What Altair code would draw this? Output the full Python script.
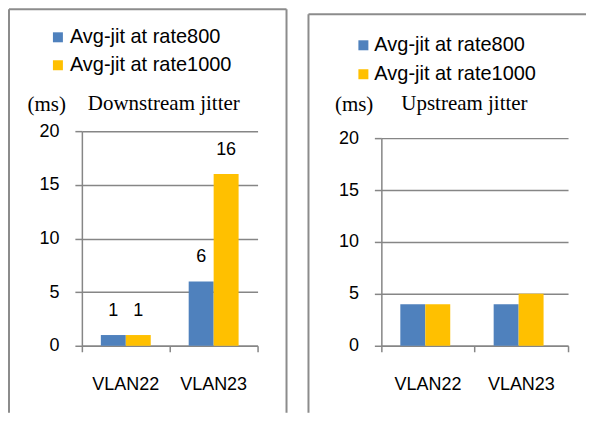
import altair as alt
import pandas as pd

categories = ["VLAN22", "VLAN23"]
series = ["Avg-jit at rate800", "Avg-jit at rate1000"]
down_800 = [1, 6]
down_1000 = [1, 16]
up_800 = [4, 4]
up_1000 = [4, 5]
y_ticks = [0, 5, 10, 15, 20]
colors = ["#4F81BD", "#FFC000"]
titles = ["Downstream jitter", "Upstream jitter"]
unit = "(ms)"

GRAY = "#868686"
SANS = "Liberation Sans"
SERIF = "Liberation Serif"


def make_df(v800, v1000):
    rows = []
    for i, c in enumerate(categories):
        rows.append({"vlan": c, "series": series[0], "value": v800[i]})
        rows.append({"vlan": c, "series": series[1], "value": v1000[i]})
    return pd.DataFrame(rows)


one = pd.DataFrame({"k": [0]})


def rule(x, y, x2=None, y2=None):
    enc = dict(x=alt.value(x), y=alt.value(y))
    if x2 is not None:
        enc["x2"] = alt.value(x2)
    if y2 is not None:
        enc["y2"] = alt.value(y2)
    return alt.Chart(one).mark_rule(color="#8c8c8c", strokeWidth=2).encode(**enc)


def panel(df, width, yrange, title, lx, ly, row_pad, label_off, ms_x, title_x,
          labels, borders):
    x = alt.X(
        "vlan:N", sort=categories,
        scale=alt.Scale(paddingInner=0, paddingOuter=0),
        axis=alt.Axis(title=None, bandPosition=1, tickExtra=True, tickSize=6,
                      tickColor=GRAY, tickWidth=1.5, domainColor=GRAY,
                      domainWidth=1.5, labelFont=SANS, labelFontSize=18,
                      labelColor="black", labelAngle=0, labelPadding=24,
                      grid=False),
    )
    y = alt.Y(
        "value:Q",
        scale=alt.Scale(domain=[0, 20], range=yrange, nice=False),
        axis=alt.Axis(values=y_ticks, title=unit, titleAngle=0, titleX=ms_x,
                      titleY=-27, titleAlign="left", titleBaseline="middle",
                      titleFont=SERIF, titleFontSize=21,
                      titleFontWeight="normal", titleColor="black",
                      tickSize=7, tickColor=GRAY, tickWidth=1.5,
                      domainColor=GRAY, domainWidth=1.5, gridColor=GRAY,
                      gridWidth=1.5, gridOpacity=1, labelFont=SANS,
                      labelFontSize=18, labelPadding=16, labelColor="black"),
    )
    xo = alt.XOffset("series:N", sort=series,
                     scale=alt.Scale(paddingOuter=0.76, paddingInner=0))
    color = alt.Color(
        "series:N", sort=series,
        scale=alt.Scale(domain=series, range=colors),
        legend=alt.Legend(title=None, orient="none", legendX=lx, legendY=ly,
                          direction="vertical", symbolType="square",
                          symbolSize=100, symbolStrokeWidth=0,
                          symbolOpacity=1, labelFont=SANS, labelFontSize=20,
                          labelLimit=400, labelColor="black",
                          rowPadding=row_pad, labelOffset=label_off,
                          padding=0),
    )
    bars = alt.Chart(df).mark_bar().encode(x=x, y=y, xOffset=xo, color=color)
    layers = [bars]
    if labels:
        layers.append(
            alt.Chart(df).mark_text(dy=-24, baseline="middle", font=SANS,
                                    fontSize=18, color="black")
            .encode(x=alt.X("vlan:N", sort=categories), xOffset=xo,
                    y=alt.Y("value:Q"), text=alt.Text("value:Q"))
        )
    layers.append(
        alt.Chart(one).mark_text(align="left", baseline="middle", font=SERIF,
                                 fontSize=21, color="black")
        .encode(x=alt.value(title_x), y=alt.value(-27), text=alt.value(title))
    )
    layers += borders
    return alt.layer(*layers).properties(width=width, height=215)


left = panel(make_df(down_800, down_1000), 176, [215, 0], titles[0],
             -34, -104, 8, 2, -55, 6, True,
             [rule(-73, -122, y2=282), rule(-73, -122, x2=205),
              rule(205, -122, y2=282)])
right = panel(make_df(up_800, up_1000), 187, [215, 7], titles[1],
              -28, -96, 9, 1, -47, 20, False,
              [rule(-73, -117, y2=282), rule(-73, -117, x2=205)])

chart = (
    alt.hconcat(left, right, spacing=124, bounds="flush")
    .resolve_scale(color="independent")
    .properties(padding=0, background="white")
    .configure_view(stroke=None)
)

chart.save("out.html", embed_options={"renderer": "svg", "actions": False})
